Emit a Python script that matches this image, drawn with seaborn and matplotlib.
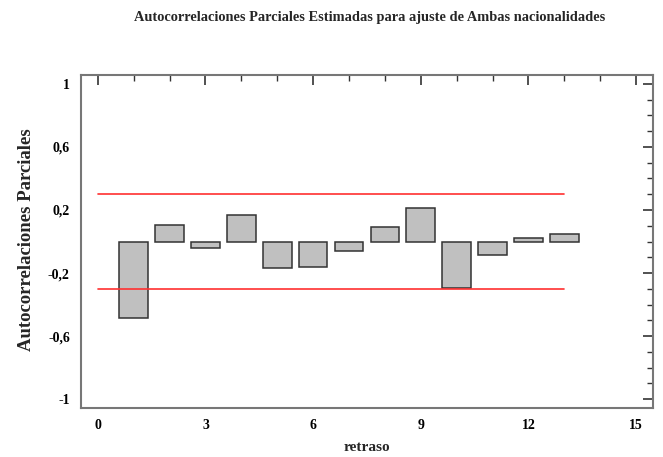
import matplotlib
matplotlib.use("Agg")
import matplotlib.pyplot as plt
import seaborn as sns
import pandas as pd
from matplotlib.ticker import MultipleLocator, FuncFormatter

# Data
lags = [1, 2, 3, 4, 5, 6, 7, 8, 9, 10, 11, 12, 13]
pacf = [-0.483, 0.108, -0.044, 0.171, -0.17, -0.163, -0.063, 0.093, 0.212, -0.297, -0.087, 0.023, 0.045]
limit_x = [0, 13]
limit_upper = 0.30
limit_lower = -0.30

title = "Autocorrelaciones Parciales Estimadas para ajuste de Ambas nacionalidades"
xlabel = "retraso"
ylabel = "Autocorrelaciones Parciales"

sns.set_style("white")
plt.rcParams['font.family'] = ['Liberation Serif', 'DejaVu Serif']
plt.rcParams['font.weight'] = 'bold'

df = pd.DataFrame({"lag": lags, "pacf": pacf})

fig = plt.figure(figsize=(6.63, 4.57), dpi=100)
ax = fig.add_axes([0.122, 0.107, 0.863, 0.729])

sns.barplot(data=df, x="lag", y="pacf", native_scale=True, width=0.8,
            color="#c0c0c0", saturation=1, edgecolor="#333333", linewidth=1.1,
            errorbar=None, ax=ax)

# confidence limits
ax.plot(limit_x, [limit_upper, limit_upper], color="#ff3030", lw=1.2)
ax.plot(limit_x, [limit_lower, limit_lower], color="#ff3030", lw=1.2)

ax.set_xlim(-0.47, 15.47)
ax.set_ylim(-1.057, 1.057)

ax.xaxis.set_major_locator(MultipleLocator(3))
ax.xaxis.set_minor_locator(MultipleLocator(1))
ax.set_yticks([-1, -0.6, -0.2, 0.2, 0.6, 1])
ax.yaxis.set_minor_locator(MultipleLocator(0.1))
ax.yaxis.set_major_formatter(FuncFormatter(lambda v, p: f"{v:g}".replace(".", ",")))
ax.xaxis.set_major_formatter(FuncFormatter(lambda v, p: f"{v:g}"))

ax.tick_params(which="both", direction="in", top=True, right=True, colors="#333333",
               labelcolor="black", labelsize=10)
ax.tick_params(which="major", length=7, width=1.2, pad=8)
ax.tick_params(which="minor", length=4, width=1.0)

for sp in ax.spines.values():
    sp.set_color("#777777")
    sp.set_linewidth(1.5)

ax.set_xlabel(xlabel, fontsize=11, fontweight="bold", labelpad=6)
ax.set_ylabel(ylabel, fontsize=13.5, fontweight="bold")
ax.yaxis.set_label_coords(-0.08, 0.505)
fig.suptitle(title, x=0.557, y=0.975, fontsize=10.4, fontweight="bold")

fig.savefig("out.png", dpi=100)
